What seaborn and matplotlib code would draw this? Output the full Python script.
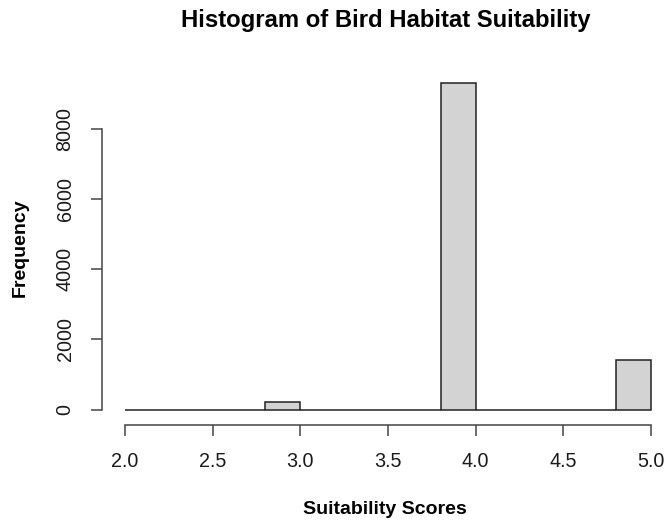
import numpy as np
import pandas as pd
import matplotlib
matplotlib.use("Agg")
import matplotlib.pyplot as plt
import seaborn as sns

# --- Datos: histograma de aptitud del hábitat (intervalos de 0.2) ---
bin_edges = [2.0, 2.2, 2.4, 2.6, 2.8, 3.0, 3.2, 3.4, 3.6, 3.8, 4.0, 4.2, 4.4, 4.6, 4.8, 5.0]
bin_counts = [0, 0, 0, 0, 220, 0, 0, 0, 0, 9310, 0, 0, 0, 0, 1410]
x_ticks = [2.0, 2.5, 3.0, 3.5, 4.0, 4.5, 5.0]
y_ticks = [0, 2000, 4000, 6000, 8000]

df = pd.DataFrame({
    "score": [(a + b) / 2 for a, b in zip(bin_edges[:-1], bin_edges[1:])],
    "count": bin_counts,
})

sns.set_style("white")
plt.rcParams["font.family"] = ["Liberation Sans", "DejaVu Sans"]

W, H = 669, 525
fig = plt.figure(figsize=(W / 100, H / 100), dpi=100)
# posicion del panel en pixeles (estilo R base)
left_px, right_px, top_px, bottom_px = 101.7, 669, 69.6, 425
ax = fig.add_axes([left_px / W, 1 - bottom_px / H,
                   (right_px - left_px) / W, (bottom_px - top_px) / H])

sns.histplot(data=df, x="score", weights="count", bins=bin_edges,
             color="#D3D3D3", edgecolor="#222222", linewidth=1.1,
             alpha=1, ax=ax)

ax.set_xlim(1.867, 5.103)
ax.set_ylim(-440, 9700)

for s in ["top", "right"]:
    ax.spines[s].set_visible(False)
ax.spines["left"].set_bounds(0, 8000)
ax.spines["bottom"].set_bounds(2.0, 5.0)
for s in ["left", "bottom"]:
    ax.spines[s].set_color("#444444")
    ax.spines[s].set_linewidth(1.1)

ax.set_xticks(x_ticks)
ax.set_xticklabels([f"{v:.1f}" for v in x_ticks])
ax.set_yticks(y_ticks)
ax.set_yticklabels([str(v) for v in y_ticks], rotation=90, va="center")
ax.tick_params(axis="both", direction="out", length=8, width=1.1,
               bottom=True, left=True,
               color="#444444", labelsize=14.2, labelcolor="#1a1a1a", pad=11.5)

ax.set_title("Histogram of Bird Habitat Suitability", fontsize=17.2,
             fontweight="bold", y=(bottom_px - 20) / (bottom_px - top_px),
             va="center", pad=0, color="black")
ax.set_xlabel("Suitability Scores", fontsize=14, fontweight="bold",
              va="center", color="black")
ax.xaxis.set_label_coords(0.5, (bottom_px - 510) / (bottom_px - top_px))
ax.set_ylabel("Frequency", fontsize=14, fontweight="bold",
              va="center", color="black")
ax.yaxis.set_label_coords((20 - left_px) / (right_px - left_px), 0.5)

fig.savefig("out.png", dpi=100)
